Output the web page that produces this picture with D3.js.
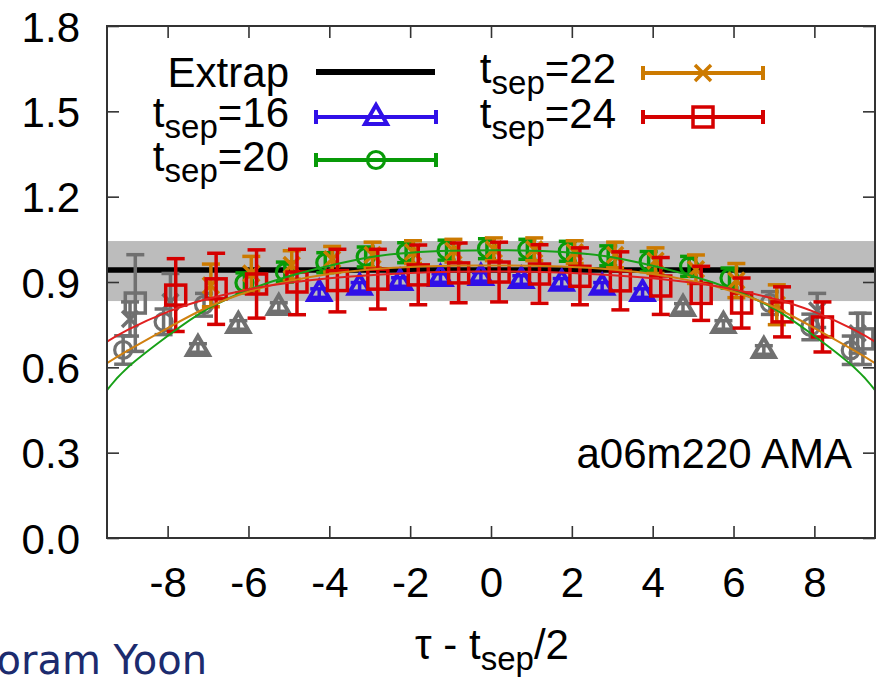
<!DOCTYPE html>
<html>
<head>
<meta charset="utf-8">
<script src="https://cdn.jsdelivr.net/npm/d3@7"></script>
<style>
  html, body { margin: 0; padding: 0; background: #fff; }
  svg { display: block; font-family: "Liberation Sans", Arial, Helvetica, sans-serif; }
</style>
</head>
<body>
<svg id="chart" width="881" height="680"></svg>
<script>
// ---- data: ratio vs tau - tsep/2 for four source-sink separations ----
const tau16 = [-7, -6, -5, -4, -3, -2, -1, 0, 1, 2, 3, 4, 5, 6, 7];
const ratio16 = [0.668, 0.749, 0.812, 0.861, 0.883, 0.900, 0.914, 0.918, 0.907, 0.897, 0.883, 0.861, 0.809, 0.749, 0.661];
const err16 = [0.015, 0.015, 0.015, 0.015, 0.015, 0.015, 0.015, 0.015, 0.015, 0.015, 0.015, 0.015, 0.015, 0.015, 0.015];

const tau20 = [-9, -8, -7, -6, -5, -4, -3, -2, -1, 0, 1, 2, 3, 4, 5, 6, 7, 8, 9];
const ratio20 = [0.661, 0.760, 0.820, 0.897, 0.935, 0.968, 0.988, 1.003, 1.012, 1.017, 1.015, 1.008, 0.992, 0.972, 0.955, 0.914, 0.826, 0.742, 0.660];
const err20 = [0.05, 0.045, 0.04, 0.035, 0.035, 0.035, 0.035, 0.035, 0.035, 0.035, 0.035, 0.035, 0.035, 0.035, 0.035, 0.035, 0.04, 0.045, 0.05];

const tau22 = [-9, -8, -7, -6, -5, -4, -3, -2, -1, 0, 1, 2, 3, 4, 5, 6, 7, 8, 9];
const ratio22 = [0.770, 0.830, 0.888, 0.930, 0.960, 0.980, 0.995, 1.005, 1.010, 1.015, 1.015, 1.005, 0.995, 0.975, 0.945, 0.905, 0.820, 0.800, 0.720];
const err22 = [0.06, 0.10, 0.075, 0.06, 0.05, 0.045, 0.045, 0.04, 0.04, 0.04, 0.04, 0.04, 0.045, 0.045, 0.05, 0.06, 0.07, 0.06, 0.07];

const tau24 = [-9, -8, -7, -6, -5, -4, -3, -2, -1, 0, 1, 2, 3, 4, 5, 6, 7, 8, 9];
const ratio24 = [0.826, 0.854, 0.876, 0.893, 0.900, 0.905, 0.910, 0.925, 0.932, 0.935, 0.928, 0.920, 0.904, 0.886, 0.860, 0.826, 0.795, 0.742, 0.700];
const err24 = [0.17, 0.128, 0.125, 0.12, 0.115, 0.11, 0.105, 0.105, 0.105, 0.105, 0.103, 0.10, 0.102, 0.10, 0.095, 0.088, 0.088, 0.088, 0.09];

// points with |tau - tsep/2| above the cut are excluded from the fit (drawn grey)
const cut16 = 4, cut20 = 6, cut22 = 7, cut24 = 8;

// extrapolated value and its error band
const extrapValue = 0.942;
const extrapLow = 0.833;
const extrapHigh = 1.044;

// fit curves for each separation
const fitTau = [-9.5, -9, -8, -7, -6, -5, -4, -3, -2, -1, 0, 1, 2, 3, 4, 5, 6, 7, 8, 9, 9.5];
const fit20 = [0.520, 0.598, 0.710, 0.806, 0.872, 0.920, 0.957, 0.987, 1.003, 1.010, 1.012, 1.010, 1.003, 0.987, 0.957, 0.920, 0.872, 0.806, 0.710, 0.598, 0.520];
const fit22 = [0.615, 0.658, 0.738, 0.812, 0.866, 0.903, 0.928, 0.944, 0.953, 0.957, 0.958, 0.957, 0.953, 0.944, 0.928, 0.903, 0.866, 0.812, 0.738, 0.658, 0.615];
const fit24 = [0.690, 0.731, 0.795, 0.841, 0.874, 0.897, 0.913, 0.924, 0.932, 0.936, 0.937, 0.936, 0.932, 0.924, 0.913, 0.897, 0.874, 0.841, 0.795, 0.731, 0.690];

const xTicks = [-8, -6, -4, -2, 0, 2, 4, 6, 8];
const yTicks = [0.0, 0.3, 0.6, 0.9, 1.2, 1.5, 1.8];

// ---- presentation ----
const GREY = "#707070";
const series = [
  { sep: "16", tau: tau16, val: ratio16, err: err16, cut: cut16, shift: -0.25, color: "#3010e8", marker: "triangle" },
  { sep: "20", tau: tau20, val: ratio20, err: err20, cut: cut20, shift: -0.10, color: "#089a08", marker: "circle" },
  { sep: "22", tau: tau22, val: ratio22, err: err22, cut: cut22, shift: 0.07, color: "#cc7a00", marker: "cross" },
  { sep: "24", tau: tau24, val: ratio24, err: err24, cut: cut24, shift: 0.20, color: "#d50000", marker: "square" }
];
const fits = [
  { val: fit20, color: "#17a017" },
  { val: fit22, color: "#d08010" },
  { val: fit24, color: "#e02020" }
];

const svg = d3.select("#chart");
const L = 107, R = 875, T = 26, B = 538;
const x = d3.scaleLinear().domain([-9.5, 9.5]).range([L, R]);
const y = d3.scaleLinear().domain([0, 1.8]).range([B, T]);

svg.append("defs").append("clipPath").attr("id", "plotClip")
  .append("rect").attr("x", L).attr("y", T).attr("width", R - L).attr("height", B - T);

const plot = svg.append("g").attr("clip-path", "url(#plotClip)");

// error band and extrapolated line
plot.append("rect")
  .attr("x", L).attr("width", R - L)
  .attr("y", y(extrapHigh)).attr("height", y(extrapLow) - y(extrapHigh))
  .attr("fill", "#bcbcbc");
plot.append("line")
  .attr("x1", L).attr("x2", R)
  .attr("y1", y(extrapValue)).attr("y2", y(extrapValue))
  .attr("stroke", "#000").attr("stroke-width", 5.5);

function drawMarker(g, type, cx, cy, color) {
  const sw = 3.5;
  if (type === "triangle") {
    g.append("path")
      .attr("d", `M${cx},${cy - 12}L${cx - 11},${cy + 7}L${cx + 11},${cy + 7}Z`)
      .attr("fill", "none").attr("stroke", color).attr("stroke-width", 4).attr("stroke-linejoin", "miter");
  } else if (type === "circle") {
    g.append("circle").attr("cx", cx).attr("cy", cy).attr("r", 8.5)
      .attr("fill", "none").attr("stroke", color).attr("stroke-width", 3.2);
  } else if (type === "cross") {
    const s = 8;
    g.append("path")
      .attr("d", `M${cx - s},${cy - s}L${cx + s},${cy + s}M${cx - s},${cy + s}L${cx + s},${cy - s}`)
      .attr("stroke", color).attr("stroke-width", sw);
  } else if (type === "square") {
    g.append("rect").attr("x", cx - 10).attr("y", cy - 10).attr("width", 20).attr("height", 20)
      .attr("fill", "none").attr("stroke", color).attr("stroke-width", sw);
  }
}

function drawErrorBar(g, cx, v, e, color) {
  const y1 = y(v - e), y2 = y(v + e), cap = 9;
  g.append("line").attr("x1", cx).attr("x2", cx).attr("y1", y1).attr("y2", y2)
    .attr("stroke", color).attr("stroke-width", 3.5);
  [y1, y2].forEach(yy => {
    g.append("line").attr("x1", cx - cap).attr("x2", cx + cap).attr("y1", yy).attr("y2", yy)
      .attr("stroke", color).attr("stroke-width", 3.5);
  });
}

function drawPoints(layer, s, excluded) {
  s.tau.forEach((t, i) => {
    const out = Math.abs(t) > s.cut;
    if (out !== excluded) return;
    const color = out ? GREY : s.color;
    const cx = x(t + s.shift), cy = y(s.val[i]);
    drawErrorBar(layer, cx, s.val[i], s.err[i], color);
    drawMarker(layer, s.marker, cx, cy, color);
  });
}

// excluded points first, then fitted ones
const greyLayer = plot.append("g");
series.forEach(s => drawPoints(greyLayer, s, true));
const colorLayer = plot.append("g");
series.forEach(s => drawPoints(colorLayer, s, false));

// fit curves
const fitLine = d3.line()
  .x((d, i) => x(fitTau[i]))
  .y(d => y(d))
  .curve(d3.curveNatural);
fits.forEach(f => {
  plot.append("path").attr("d", fitLine(f.val))
    .attr("fill", "none").attr("stroke", f.color).attr("stroke-width", 2);
});

// ---- axes (inward ticks, mirrored) ----
function styleAxis(g) {
  g.select(".domain").remove();
  g.selectAll(".tick line").attr("stroke", "#333").attr("stroke-width", 1.6);
  g.selectAll("text").attr("fill", "#000").attr("font-size", 42)
    .attr("font-family", "'Liberation Sans', Arial, sans-serif");
}
// plain hyphen for negative tick values
const intLabel = d => String(d);
const gx = svg.append("g").attr("transform", `translate(0,${B})`)
  .call(d3.axisBottom(x).tickValues(xTicks).tickSize(-12).tickPadding(0).tickFormat(intLabel));
styleAxis(gx);
gx.selectAll("text").attr("y", 59).attr("dy", null);

const gxt = svg.append("g").attr("transform", `translate(0,${T})`)
  .call(d3.axisTop(x).tickValues(xTicks).tickSize(-12).tickFormat(""));
styleAxis(gxt);

const gy = svg.append("g").attr("transform", `translate(${L},0)`)
  .call(d3.axisLeft(y).tickValues(yTicks).tickSize(-12).tickPadding(0).tickFormat(d => d.toFixed(1)));
styleAxis(gy);
gy.selectAll("text").attr("x", -27).attr("dy", "0.36em");

const gyr = svg.append("g").attr("transform", `translate(${R},0)`)
  .call(d3.axisRight(y).tickValues(yTicks).tickSize(-12).tickFormat(""));
styleAxis(gyr);

svg.append("rect").attr("x", L).attr("y", T).attr("width", R - L).attr("height", B - T)
  .attr("fill", "none").attr("stroke", "#333").attr("stroke-width", 2);

// ---- legend ----
function tsepLabel(g, xEnd, baseline, value) {
  const t = g.append("text").attr("x", xEnd).attr("y", baseline)
    .attr("text-anchor", "end").attr("font-size", 42).attr("fill", "#000");
  t.append("tspan").text("t");
  t.append("tspan").attr("font-size", 33).attr("dy", 11).text("sep");
  t.append("tspan").attr("dy", -11).text("=" + value);
}
const legend = svg.append("g");
legend.append("text").attr("x", 289).attr("y", 87).attr("text-anchor", "end")
  .attr("font-size", 42).attr("fill", "#000").text("Extrap");
legend.append("line").attr("x1", 316).attr("x2", 435).attr("y1", 72).attr("y2", 72)
  .attr("stroke", "#000").attr("stroke-width", 6);

const legendRows = [
  { s: series[0], x0: 316, x1: 436, ly: 117, textX: 289, base: 127 },
  { s: series[1], x0: 316, x1: 436, ly: 160, textX: 289, base: 171 },
  { s: series[2], x0: 643, x1: 763, ly: 73, textX: 616, base: 83 },
  { s: series[3], x0: 643, x1: 763, ly: 117, textX: 616, base: 128 }
];
legendRows.forEach(r => {
  tsepLabel(legend, r.textX, r.base, r.s.sep);
  legend.append("line").attr("x1", r.x0).attr("x2", r.x1).attr("y1", r.ly).attr("y2", r.ly)
    .attr("stroke", r.s.color).attr("stroke-width", 4);
  [r.x0, r.x1].forEach(xx => {
    legend.append("line").attr("x1", xx).attr("x2", xx).attr("y1", r.ly - 7).attr("y2", r.ly + 7)
      .attr("stroke", r.s.color).attr("stroke-width", 4);
  });
  drawMarker(legend, r.s.marker, (r.x0 + r.x1) / 2, r.ly, r.s.color);
});

// ---- annotations ----
svg.append("text").attr("x", 852).attr("y", 468).attr("text-anchor", "end")
  .attr("font-size", 42).attr("fill", "#000").text("a06m220 AMA");

const xl = svg.append("text").attr("x", 492).attr("y", 659).attr("text-anchor", "middle")
  .attr("font-size", 42).attr("fill", "#000");
xl.append("tspan").text("\u03c4 - t");
xl.append("tspan").attr("font-size", 33).attr("dy", 11).text("sep");
xl.append("tspan").attr("dy", -11).text("/2");

// author credit running off the left edge of the page
svg.append("text").attr("x", 207).attr("y", 674).attr("text-anchor", "end")
  .attr("font-family", "'DejaVu Sans', Verdana, sans-serif")
  .attr("font-size", 40).attr("fill", "#1c2b6e").text("Boram Yoon");
</script>
</body>
</html>
